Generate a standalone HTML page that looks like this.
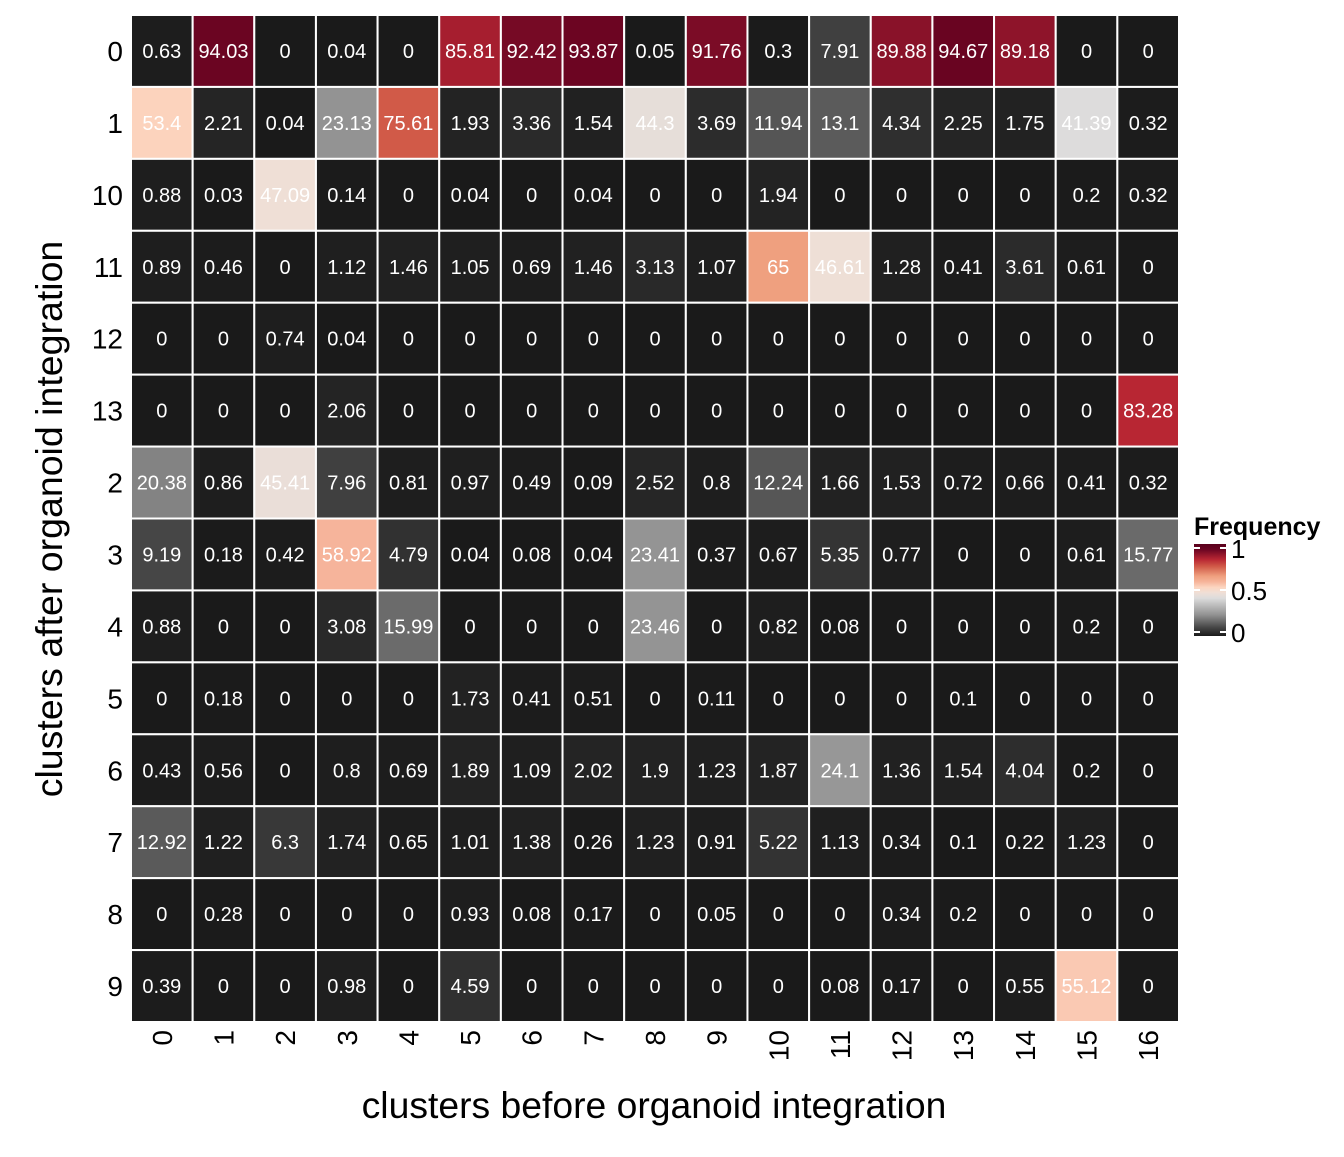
<!DOCTYPE html>
<html><head><meta charset="utf-8"><style>
body{margin:0;background:#fff;}
svg text{font-family:"Liberation Sans",Arial,sans-serif;}
</style></head><body>
<svg id="chart" width="1344" height="1152" xmlns="http://www.w3.org/2000/svg">
<g id="cells"></g>
<g id="xticks"></g>
<g id="yticks"></g>
<text x="654" y="1118" font-size="37.3" text-anchor="middle" fill="#000">clusters before organoid integration</text>
<text transform="translate(62,519) rotate(-90)" font-size="37.5" text-anchor="middle" fill="#000">clusters after organoid integration</text>
<g>
<text x="1194" y="535" font-size="25" font-weight="bold" fill="#000">Frequency</text>
<defs><linearGradient id="lg" x1="0" y1="1" x2="0" y2="0">
<stop offset="0" stop-color="#1a1a1a"/><stop offset="0.1" stop-color="#4a4a4a"/><stop offset="0.23" stop-color="#929292"/><stop offset="0.41" stop-color="#dcdcdc"/><stop offset="0.47" stop-color="#efdfd6"/><stop offset="0.53" stop-color="#fcd5c0"/><stop offset="0.59" stop-color="#f6b49a"/><stop offset="0.65" stop-color="#efa07f"/><stop offset="0.756" stop-color="#d15a48"/><stop offset="0.833" stop-color="#b82633"/><stop offset="0.94" stop-color="#6b0522"/><stop offset="1" stop-color="#5a001c"/>
</linearGradient></defs>
<rect x="1194" y="544" width="32" height="92" fill="url(#lg)"/>
<g stroke="#fff" stroke-width="2">
<line x1="1194" y1="548" x2="1200" y2="548"/><line x1="1220" y1="548" x2="1226" y2="548"/>
<line x1="1194" y1="590" x2="1200" y2="590"/><line x1="1220" y1="590" x2="1226" y2="590"/>
<line x1="1194" y1="632" x2="1200" y2="632"/><line x1="1220" y1="632" x2="1226" y2="632"/>
</g>
<text x="1231" y="558" font-size="26" fill="#000">1</text>
<text x="1231" y="600" font-size="26" fill="#000">0.5</text>
<text x="1231" y="642" font-size="26" fill="#000">0</text>
</g>
</svg>
<script>
const xCats=["0","1","2","3","4","5","6","7","8","9","10","11","12","13","14","15","16"];
const yCats=["0","1","10","11","12","13","2","3","4","5","6","7","8","9"];
const values=[
[0.63,94.03,0,0.04,0,85.81,92.42,93.87,0.05,91.76,0.3,7.91,89.88,94.67,89.18,0,0],
[53.4,2.21,0.04,23.13,75.61,1.93,3.36,1.54,44.3,3.69,11.94,13.1,4.34,2.25,1.75,41.39,0.32],
[0.88,0.03,47.09,0.14,0,0.04,0,0.04,0,0,1.94,0,0,0,0,0.2,0.32],
[0.89,0.46,0,1.12,1.46,1.05,0.69,1.46,3.13,1.07,65,46.61,1.28,0.41,3.61,0.61,0],
[0,0,0.74,0.04,0,0,0,0,0,0,0,0,0,0,0,0,0],
[0,0,0,2.06,0,0,0,0,0,0,0,0,0,0,0,0,83.28],
[20.38,0.86,45.41,7.96,0.81,0.97,0.49,0.09,2.52,0.8,12.24,1.66,1.53,0.72,0.66,0.41,0.32],
[9.19,0.18,0.42,58.92,4.79,0.04,0.08,0.04,23.41,0.37,0.67,5.35,0.77,0,0,0.61,15.77],
[0.88,0,0,3.08,15.99,0,0,0,23.46,0,0.82,0.08,0,0,0,0.2,0],
[0,0.18,0,0,0,1.73,0.41,0.51,0,0.11,0,0,0,0.1,0,0,0],
[0.43,0.56,0,0.8,0.69,1.89,1.09,2.02,1.9,1.23,1.87,24.1,1.36,1.54,4.04,0.2,0],
[12.92,1.22,6.3,1.74,0.65,1.01,1.38,0.26,1.23,0.91,5.22,1.13,0.34,0.1,0.22,1.23,0],
[0,0.28,0,0,0,0.93,0.08,0.17,0,0.05,0,0,0.34,0.2,0,0,0],
[0.39,0,0,0.98,0,4.59,0,0,0,0,0,0.08,0.17,0,0.55,55.12,0]
];
const X0=131,X1=1179,Y0=15,Y1=1022;
const cw=(X1-X0)/xCats.length, ch=(Y1-Y0)/yCats.length;
const xPos=i=>X0+i*cw, yPos=j=>Y0+j*ch;
const stops=[[0,"#1a1a1a"],[0.1,"#4a4a4a"],[0.23,"#929292"],[0.41,"#dcdcdc"],[0.47,"#efdfd6"],[0.53,"#fcd5c0"],[0.59,"#f6b49a"],[0.65,"#efa07f"],[0.756,"#d15a48"],[0.833,"#b82633"],[0.94,"#6b0522"],[1,"#5a001c"]].map(s=>[s[0],[1,3,5].map(k=>parseInt(s[1].substr(k,2),16))]);
function color(v){const t=Math.max(0,Math.min(1,v/100));let i=0;while(i<stops.length-2&&t>stops[i+1][0])i++;const a=stops[i],b=stops[i+1];const f=(t-a[0])/(b[0]-a[0]);return "rgb("+a[1].map((c,k)=>Math.round(c+(b[1][k]-c)*f)).join(",")+")";}
const NS="http://www.w3.org/2000/svg";
const cells=document.getElementById("cells");
values.forEach((row,j)=>row.forEach((v,i)=>{
 const r=document.createElementNS(NS,"rect");
 r.setAttribute("x",xPos(i));r.setAttribute("y",yPos(j));r.setAttribute("width",cw);r.setAttribute("height",ch);
 r.setAttribute("fill",color(v));r.setAttribute("stroke","#fff");r.setAttribute("stroke-width","2");
 
 
 cells.appendChild(r);
 const t=document.createElementNS(NS,"text");
 t.setAttribute("x",xPos(i)+cw/2);t.setAttribute("y",yPos(j)+ch/2+7);t.setAttribute("text-anchor","middle");
 t.setAttribute("font-size","20");t.setAttribute("fill","#fff");t.textContent=String(v);
 
 
 cells.appendChild(t);
}));
const xt=document.getElementById("xticks");
xCats.forEach((c,i)=>{
 const t=document.createElementNS(NS,"text");
 const x=xPos(i)+cw/2+10;
 t.setAttribute("transform","translate("+x+",1030) rotate(-90)");
 t.setAttribute("text-anchor","end");t.setAttribute("font-size","28");t.textContent=c;
 
 
 xt.appendChild(t);
});
const yt=document.getElementById("yticks");
yCats.forEach((c,j)=>{
 const t=document.createElementNS(NS,"text");
 t.setAttribute("x",123);t.setAttribute("y",yPos(j)+ch/2+10);
 t.setAttribute("text-anchor","end");t.setAttribute("font-size","28");t.textContent=c;
 
 
 yt.appendChild(t);
});
</script>
</body></html>
